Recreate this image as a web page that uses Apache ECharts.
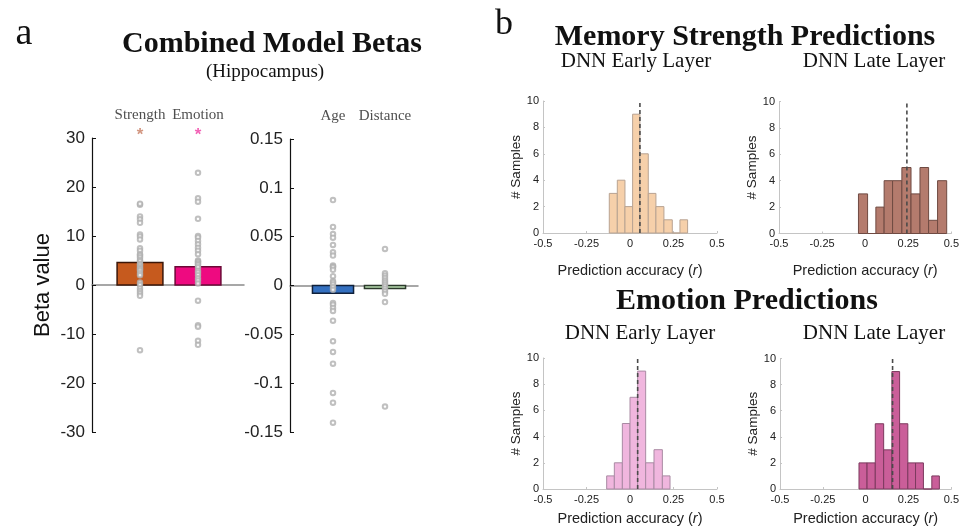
<!DOCTYPE html>
<html>
<head>
<meta charset="utf-8">
<script src="https://cdn.jsdelivr.net/npm/echarts@6/dist/echarts.min.js"></script>
<style>
  html, body { margin: 0; padding: 0; background: #fff; }
  #chart { width: 962px; height: 527px; }
</style>
</head>
<body>
<div id="chart"></div>
<script>
// panel a: betas
const betaCats = ["Strength", "Emotion"];
const betaMeans = [4.6, 3.7];
const strengthPts = [16.4, 16.6, 14.0, 13.4, 12.7, 10.3, 9.9, 9.3, 7.5, 7.0, 6.3, 6.0, 5.6, 5.1, 4.8, 4.3, 4.1, 3.7, 3.4, 3.2, 2.9, 2.4, 2.0, 0.5, 0.0, -0.7, -1.2, -1.7, -2.2, -13.3];
const emotionPts = [22.9, 17.7, 17.0, 13.5, 10.0, 9.7, 9.0, 8.3, 7.6, 7.0, 6.3, 5.0, 4.8, 4.6, 4.3, 4.1, 3.6, 2.9, 2.5, 2.0, 1.4, 0.9, 0.3, -3.2, -8.2, -8.5, -11.4, -12.2];

const ctrlCats = ["Age", "Distance"];
const ctrlMeans = [-0.008, -0.003];
const agePts = [0.0875, 0.060, 0.0527, 0.049, 0.0415, 0.034, 0.0306, 0.0204, 0.0194, 0.0187, 0.016, 0.0095, 0.0044, 0.003, 0.001, -0.0017, -0.0044, -0.018, -0.0197, -0.023, -0.026, -0.036, -0.057, -0.068, -0.080, -0.110, -0.120, -0.1405];
const distancePts = [0.0374, 0.0126, 0.0102, 0.0078, 0.0051, 0.003, 0.001, -0.001, -0.0034, -0.0058, -0.0085, -0.017, -0.124];

// panel b: histograms (bin edges, counts, mean)
const memEarlyEdges = [-0.119, -0.073, -0.029, 0.015, 0.057, 0.105, 0.149, 0.195, 0.243, 0.287, 0.331];
const memEarlyCounts = [3, 4, 2, 9, 6, 3, 2, 1, 0, 1];
const memEarlyMean = 0.057;
const memLateEdges = [-0.039, 0.014, 0.062, 0.110, 0.159, 0.213, 0.266, 0.318, 0.368, 0.420, 0.473];
const memLateCounts = [3, 0, 2, 4, 4, 5, 3, 5, 1, 4];
const memLateMean = 0.242;
const emoEarlyEdges = [-0.134, -0.090, -0.044, 0.0, 0.044, 0.090, 0.138, 0.186, 0.230];
const emoEarlyCounts = [1, 2, 5, 7, 9, 2, 3, 1];
const emoEarlyMean = 0.044;
const emoLateEdges = [-0.039, 0.008, 0.056, 0.105, 0.153, 0.198, 0.246, 0.291, 0.337, 0.386, 0.430];
const emoLateCounts = [2, 2, 5, 3, 9, 5, 2, 2, 0, 1];
const emoLateMean = 0.157;

const SERIF = "Liberation Serif";
const SANS = "Liberation Sans";

const chart = echarts.init(document.getElementById("chart"));

function barItem(halfW, fills, strokes) {
  return function (params, api) {
    const x = api.value(0), v = api.value(1);
    const a = api.coord([x - halfW, v]);
    const b = api.coord([x + halfW, 0]);
    return {
      type: "rect",
      shape: { x: a[0], y: Math.min(a[1], b[1]), width: b[0] - a[0], height: Math.abs(b[1] - a[1]) },
      style: { fill: fills[params.dataIndex], stroke: strokes[params.dataIndex], lineWidth: 1.5 }
    };
  };
}

function histItem(fill, stroke) {
  return function (params, api) {
    const a = api.coord([api.value(0), api.value(2)]);
    const b = api.coord([api.value(1), 0]);
    return {
      type: "rect",
      shape: { x: a[0], y: a[1], width: b[0] - a[0], height: b[1] - a[1] },
      style: { fill: fill, stroke: stroke, lineWidth: 1 }
    };
  };
}

function binData(edges, counts) {
  return counts.map((c, i) => [edges[i], edges[i + 1], c]);
}

const pts = (arr, x) => arr.map((v) => [x, v]);

const histGrids = [
  { left: 543, top: 101, width: 174, height: 132 },
  { left: 779, top: 101.5, width: 173, height: 132 },
  { left: 543, top: 358, width: 174, height: 132 },
  { left: 780, top: 358.5, width: 172, height: 132 }
];

const histX = (gi, gap) => ({
  type: "value", gridIndex: gi, min: -0.5, max: 0.5, interval: 0.25,
  axisLine: { show: true, onZero: false, lineStyle: { color: "#c4c4c4", width: 1 } },
  axisTick: { show: true, inside: true, length: 2, lineStyle: { color: "#c4c4c4" } },
  axisLabel: { fontFamily: SANS, fontSize: 11, color: "#222", margin: 5 },
  splitLine: { show: false },
  name: "{n|Prediction accuracy (}{i|r}{n|)}",
  nameLocation: "middle", nameGap: gap,
  nameTextStyle: {
    rich: {
      n: { fontFamily: SANS, fontSize: 14.5, color: "#222" },
      i: { fontFamily: SANS, fontSize: 14.5, color: "#222", fontStyle: "italic" }
    }
  }
});

const histY = (gi) => ({
  type: "value", gridIndex: gi, min: 0, max: 10, interval: 2,
  axisLine: { show: true, onZero: false, lineStyle: { color: "#c4c4c4", width: 1 } },
  axisTick: { show: true, inside: true, length: 2, lineStyle: { color: "#c4c4c4" } },
  axisLabel: { fontFamily: SANS, fontSize: 11, color: "#222", margin: 4 },
  splitLine: { show: false },
  name: "# Samples", nameLocation: "middle", nameGap: 15,
  nameTextStyle: { fontFamily: SANS, fontSize: 13.5, color: "#222" }
});

function histSeries(gi, edges, counts, mean, fill, stroke) {
  return [
    {
      type: "custom", xAxisIndex: gi, yAxisIndex: gi,
      renderItem: histItem(fill, stroke),
      data: binData(edges, counts), z: 2
    },
    {
      type: "line", xAxisIndex: gi, yAxisIndex: gi, symbol: "none",
      data: [[mean, 0], [mean, 10]],
      lineStyle: { color: "#4a4a4a", width: 1.6, type: [4, 3] }, z: 5
    }
  ];
}

const txt = (text, x, y, font) => ({
  type: "text", x: x, y: y, silent: true,
  style: { text: text, font: font, fill: "#111", textAlign: "center", textVerticalAlign: "middle" }
});

// invisible anchor points that only carry a label
const labelOnly = {
  type: "scatter", clip: false, symbol: "circle", symbolSize: 1,
  itemStyle: { color: "rgba(0,0,0,0)" }, silent: true, z: 6
};

chart.setOption({
  animation: false,
  backgroundColor: "#fff",
  grid: [
    { left: 92, top: 138, width: 152, height: 294 },
    { left: 290, top: 139, width: 128, height: 293 }
  ].concat(histGrids),
  xAxis: [
    {
      type: "value", gridIndex: 0, min: 0.1724, max: 2.7931,
      axisLine: { show: true, onZero: true, lineStyle: { color: "#8a8a8a", width: 1.5 } },
      axisTick: { show: false }, axisLabel: { show: false }, splitLine: { show: false }
    },
    {
      type: "value", gridIndex: 1, min: 0.1731, max: 2.6346,
      axisLine: { show: true, onZero: true, lineStyle: { color: "#8a8a8a", width: 1.5 } },
      axisTick: { show: false }, axisLabel: { show: false }, splitLine: { show: false }
    },
    histX(2, 30), histX(3, 30), histX(4, 22), histX(5, 22)
  ],
  yAxis: [
    {
      type: "value", gridIndex: 0, min: -30, max: 30, interval: 10,
      axisLine: { show: true, lineStyle: { color: "#111", width: 1.2 } },
      axisTick: { show: true, inside: true, length: 4, lineStyle: { color: "#111" } },
      axisLabel: { fontFamily: SANS, fontSize: 17, color: "#222", margin: 7 },
      splitLine: { show: false },
      name: "Beta value", nameLocation: "middle", nameGap: 38,
      nameTextStyle: { fontFamily: SANS, fontSize: 22, color: "#111" }
    },
    {
      type: "value", gridIndex: 1, min: -0.15, max: 0.15, interval: 0.05,
      axisLine: { show: true, lineStyle: { color: "#111", width: 1.2 } },
      axisTick: { show: true, inside: true, length: 4, lineStyle: { color: "#111" } },
      axisLabel: { fontFamily: SANS, fontSize: 17, color: "#222", margin: 7 },
      splitLine: { show: false }
    },
    histY(2), histY(3), histY(4), histY(5)
  ],
  series: [
    {
      type: "custom", xAxisIndex: 0, yAxisIndex: 0, z: 2,
      renderItem: barItem(0.395, ["#c65a1e", "#ee0a80"], ["#3b1608", "#6b0836"]),
      data: betaMeans.map((v, i) => [i + 1, v])
    },
    {
      type: "custom", xAxisIndex: 1, yAxisIndex: 1, z: 2,
      renderItem: barItem(0.395, ["#3470c0", "#b9dcb0"], ["#10203a", "#2c3a2c"]),
      data: ctrlMeans.map((v, i) => [i + 1, v])
    },
    {
      type: "scatter", xAxisIndex: 0, yAxisIndex: 0, z: 4,
      symbol: "emptyCircle", symbolSize: 4.5,
      itemStyle: { color: "#b0b0b0", borderWidth: 0.7 },
      data: pts(strengthPts, 1).concat(pts(emotionPts, 2))
    },
    {
      type: "scatter", xAxisIndex: 1, yAxisIndex: 1, z: 4,
      symbol: "emptyCircle", symbolSize: 4.5,
      itemStyle: { color: "#b0b0b0", borderWidth: 0.7 },
      data: pts(agePts, 1).concat(pts(distancePts, 2))
    },
    Object.assign({}, labelOnly, {
      // significance stars
      xAxisIndex: 0, yAxisIndex: 0,
      data: [
        { value: [1, 30.6], label: { color: "#c77c60" } },
        { value: [2, 30.6], label: { color: "#ef3aa2" } }
      ],
      label: { show: true, formatter: "*", fontFamily: SANS, fontSize: 17, fontWeight: "bold", position: "inside" }
    }),
    Object.assign({}, labelOnly, {
      // column names
      xAxisIndex: 0, yAxisIndex: 0,
      data: betaCats.map((c, i) => ({ name: c, value: [i + 1, 34.7] })),
      label: { show: true, formatter: "{b}", position: "inside", fontFamily: SERIF, fontSize: 15, color: "#222" }
    }),
    Object.assign({}, labelOnly, {
      xAxisIndex: 1, yAxisIndex: 1,
      data: ctrlCats.map((c, i) => ({ name: c, value: [i + 1, 0.1735] })),
      label: { show: true, formatter: "{b}", position: "inside", fontFamily: SERIF, fontSize: 15, color: "#222" }
    })
  ].concat(
    histSeries(2, memEarlyEdges, memEarlyCounts, memEarlyMean, "#f6d0aa", "#b8a392"),
    histSeries(3, memLateEdges, memLateCounts, memLateMean, "#b47b6d", "#6f4a42"),
    histSeries(4, emoEarlyEdges, emoEarlyCounts, emoEarlyMean, "#f0b6de", "#a98aa3"),
    histSeries(5, emoLateEdges, emoLateCounts, emoLateMean, "#ca5e99", "#7c3a5e")
  ),
  graphic: [
    txt("a", 24, 34, "38px " + SERIF),
    txt("Combined Model Betas", 272, 44, "bold 30px " + SERIF),
    txt("(Hippocampus)", 265, 72, "19px " + SERIF),
    txt("b", 504, 25, "36px " + SERIF),
    txt("Memory Strength Predictions", 745, 37, "bold 30px " + SERIF),
    txt("DNN Early Layer", 636, 61, "21px " + SERIF),
    txt("DNN Late Layer", 874, 61, "21px " + SERIF),
    txt("Emotion Predictions", 747, 301, "bold 30px " + SERIF),
    txt("DNN Early Layer", 640, 333, "21px " + SERIF),
    txt("DNN Late Layer", 874, 333, "21px " + SERIF)
  ]
});
</script>
</body>
</html>
